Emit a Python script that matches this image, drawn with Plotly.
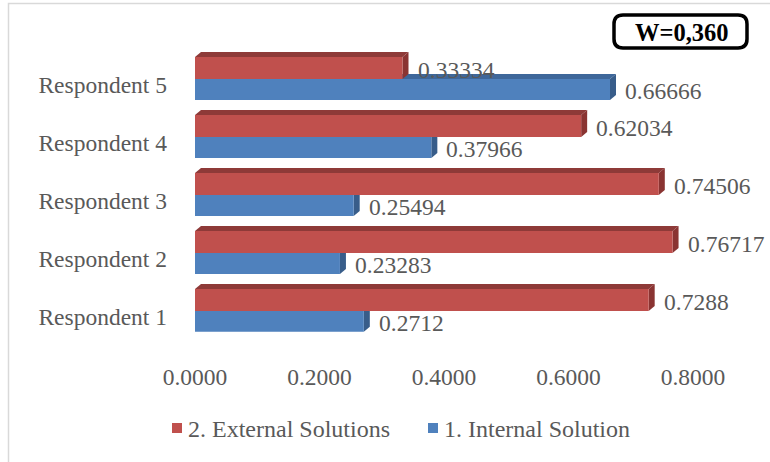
import plotly.graph_objects as go

# ---- data -------------------------------------------------------------
respondents = ["Respondent 1", "Respondent 2", "Respondent 3", "Respondent 4", "Respondent 5"]
internal = [0.2712, 0.23283, 0.25494, 0.37966, 0.66666]   # 1. Internal Solution
external = [0.7288, 0.76717, 0.74506, 0.62034, 0.33334]   # 2. External Solutions
x_ticks = [0.0, 0.2, 0.4, 0.6, 0.8]
w_label = "W=0,360"

# ---- styling ----------------------------------------------------------
W, H = 770, 462
FONT = "Liberation Serif"
FS = 23.5
GREY = "#595959"
RED, RED_TOP, RED_SIDE = "#C0504D", "#8E3A38", "#8A3432"
BLUE, BLUE_TOP, BLUE_SIDE = "#4F81BD", "#3E679A", "#385D8A"

# plot area in pixels
PL, PR, PT, PB = 195, 693, 30, 360
Y_LO, Y_HI = -0.845, 4.845
X_LO, X_HI = 0.0, 0.8

H_RED, H_BLUE = 0.38, 0.36          # bar thickness (category units)
DX = 6 / (PR - PL) * (X_HI - X_LO)  # 3-D depth, horizontal
DY = 5 / (PB - PT) * (Y_HI - Y_LO)  # 3-D depth, vertical

pos = list(range(len(respondents)))


def px_to_paper(px, py):
    return (px - PL) / (PR - PL), (PB - py) / (PB - PT)


fig = go.Figure()


def poly(xs, ys, color):
    fig.add_trace(go.Scatter(x=xs, y=ys, mode="lines", fill="toself",
                             fillcolor=color, line=dict(width=0, color=color),
                             hoverinfo="skip", showlegend=False))


# depth faces (drawn beneath the front faces)
for v, c in zip(internal, pos):
    poly([0, v, v + DX, DX, 0], [c, c, c + DY, c + DY, c], BLUE_TOP)
    poly([v, v, v + DX, v + DX, v], [c - H_BLUE, c, c + DY, c - H_BLUE + DY, c - H_BLUE], BLUE_SIDE)
for v, c in zip(external, pos):
    t = c + H_RED
    poly([0, v, v + DX, DX, 0], [t, t, t + DY, t + DY, t], RED_TOP)
    poly([v, v, v + DX, v + DX, v], [c, t, t + DY, c + DY, c], RED_SIDE)

# front faces on an overlaid axis pair so they sit on top
fig.add_trace(go.Bar(x=internal, y=pos, orientation="h", width=H_BLUE, offset=-H_BLUE,
                     marker=dict(color=BLUE, line=dict(width=0)),
                     xaxis="x2", yaxis="y2", showlegend=False))
fig.add_trace(go.Bar(x=external, y=pos, orientation="h", width=H_RED, offset=0,
                     marker=dict(color=RED, line=dict(width=0)),
                     xaxis="x2", yaxis="y2", showlegend=False))

annotations = []
for v, c in zip(external, pos):
    annotations.append(dict(x=v, y=c + H_RED / 2, xref="x", yref="y", text=f"{v}",
                            showarrow=False, xanchor="left", yanchor="middle",
                            xshift=13, yshift=-2, font=dict(family=FONT, size=FS, color=GREY)))
for v, c in zip(internal, pos):
    annotations.append(dict(x=v, y=c - H_BLUE / 2, xref="x", yref="y", text=f"{v}",
                            showarrow=False, xanchor="left", yanchor="middle",
                            xshift=13, yshift=-2, font=dict(family=FONT, size=FS, color=GREY)))

shapes = []

# outer chart border
bx0, by0 = px_to_paper(8.5, 3.5)
bx1, by1 = px_to_paper(790, 480)
shapes.append(dict(type="rect", xref="paper", yref="paper", x0=bx0, y0=by1, x1=bx1, y1=by0,
                   line=dict(color="#D9D9D9", width=1.5), fillcolor="rgba(0,0,0,0)", layer="below"))

# rounded box with the W statistic
x0p, y0p, x1p, y1p, r = 614, 15, 747, 48, 9
def P(px, py):
    a, b = px_to_paper(px, py)
    return f"{a:.5f},{b:.5f}"
path = (f"M {P(x0p + r, y0p)} L {P(x1p - r, y0p)} Q {P(x1p, y0p)} {P(x1p, y0p + r)} "
        f"L {P(x1p, y1p - r)} Q {P(x1p, y1p)} {P(x1p - r, y1p)} "
        f"L {P(x0p + r, y1p)} Q {P(x0p, y1p)} {P(x0p, y1p - r)} "
        f"L {P(x0p, y0p + r)} Q {P(x0p, y0p)} {P(x0p + r, y0p)} Z")
shapes.append(dict(type="path", xref="paper", yref="paper", path=path,
                   line=dict(color="black", width=3.5), fillcolor="white"))
cx, cy = px_to_paper((x0p + x1p) / 2 + 1, (y0p + y1p) / 2 + 1)
annotations.append(dict(x=cx, y=cy, xref="paper", yref="paper", text=f"<b>{w_label}</b>",
                        showarrow=False, xanchor="center", yanchor="middle",
                        font=dict(family=FONT, size=24.5, color="black")))

# legend
legend_items = [("2. External Solutions", RED, 172), ("1. Internal Solution", BLUE, 428)]
for name, col, sx in legend_items:
    a0, b0 = px_to_paper(sx, 433)
    a1, b1 = px_to_paper(sx + 10, 423)
    shapes.append(dict(type="rect", xref="paper", yref="paper", x0=a0, y0=b0, x1=a1, y1=b1,
                       line=dict(width=0), fillcolor=col))
    tx, ty = px_to_paper(sx + 14, 429)
    annotations.append(dict(x=tx, y=ty, xref="paper", yref="paper", text=name,
                            showarrow=False, xanchor="left", yanchor="middle",
                            font=dict(family=FONT, size=24, color=GREY)))

fig.update_layout(
    width=W, height=H,
    margin=dict(l=PL, r=W - PR, t=PT, b=H - PB, autoexpand=False),
    paper_bgcolor="white", plot_bgcolor="white",
    barmode="overlay", showlegend=False,
    font=dict(family=FONT, size=FS, color=GREY),
    xaxis=dict(range=[X_LO, X_HI], tickvals=x_ticks, tickformat=".4f",
               showgrid=False, zeroline=False, showline=False, ticks="",
               tickfont=dict(family=FONT, size=FS, color=GREY)),
    yaxis=dict(range=[Y_LO, Y_HI], tickvals=[p - 0.1 for p in pos], ticktext=respondents,
               showgrid=False, zeroline=False, showline=False, ticks="",
               ticklabelstandoff=27,
               tickfont=dict(family=FONT, size=FS, color=GREY)),
    xaxis2=dict(range=[X_LO, X_HI], overlaying="x", visible=False),
    yaxis2=dict(range=[Y_LO, Y_HI], overlaying="y", visible=False),
    shapes=shapes, annotations=annotations,
)

fig.write_html("out.html")
